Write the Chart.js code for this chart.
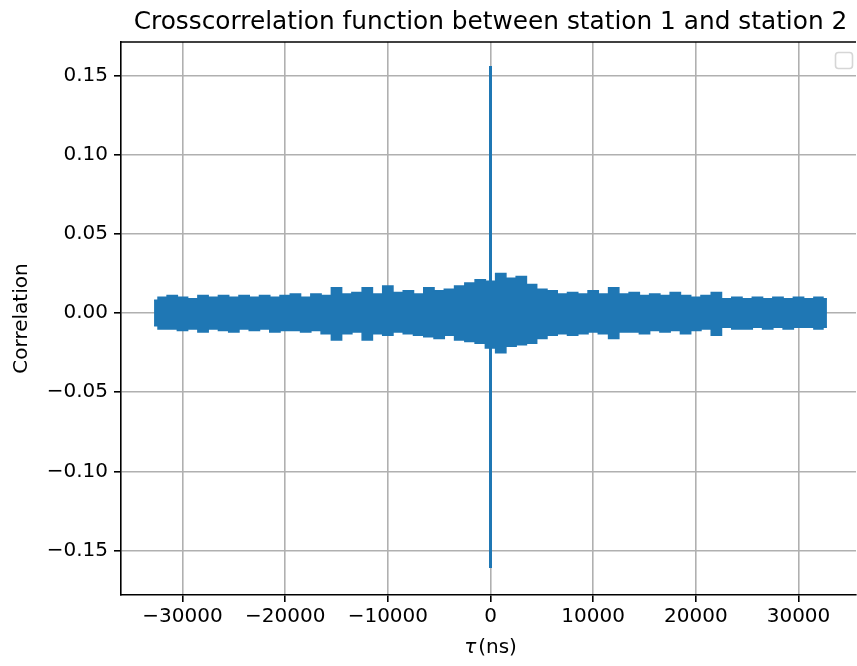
<!DOCTYPE html>
<html>
<head>
<meta charset="utf-8">
<script src="https://cdn.jsdelivr.net/npm/chart.js@4/dist/chart.umd.min.js"></script>
<style>
  html, body { margin: 0; padding: 0; background: #fff; }
  #wrap { width: 857px; height: 666px; }
</style>
</head>
<body>
<div id="wrap"><canvas id="grafico" width="857" height="666"></canvas></div>
<script>
// lag axis (ns) and band envelope
const tau = [-32768, -32000, -31000, -30000, -29000, -28000, -27000, -26000, -25000, -24000,
  -23000, -22000, -21000, -20000, -19000, -18000, -17000, -16000, -15000, -14000,
  -13000, -12000, -11000, -10000, -9000, -8000, -7000, -6000, -5000, -4000,
  -3000, -2000, -1000, 0, 1000, 2000, 3000, 4000, 5000, 6000,
  7000, 8000, 9000, 10000, 11000, 12000, 13000, 14000, 15000, 16000,
  17000, 18000, 19000, 20000, 21000, 22000, 23000, 24000, 25000, 26000,
  27000, 28000, 29000, 30000, 31000, 32000, 32767];

const envAlto = [0.008, 0.010, 0.011, 0.010, 0.009, 0.011, 0.010, 0.011, 0.010, 0.011,
  0.010, 0.011, 0.010, 0.011, 0.012, 0.010, 0.012, 0.011, 0.016, 0.012,
  0.013, 0.016, 0.012, 0.017, 0.013, 0.014, 0.012, 0.016, 0.014, 0.015,
  0.017, 0.019, 0.021, 0.020, 0.025, 0.022, 0.023, 0.018, 0.015, 0.014,
  0.012, 0.013, 0.012, 0.014, 0.012, 0.016, 0.012, 0.013, 0.011, 0.012,
  0.011, 0.013, 0.011, 0.010, 0.011, 0.013, 0.009, 0.010, 0.009, 0.010,
  0.009, 0.010, 0.009, 0.010, 0.009, 0.010, 0.009];

const envBaixo = [-0.008, -0.010, -0.010, -0.011, -0.010, -0.012, -0.010, -0.011, -0.012, -0.010,
  -0.011, -0.010, -0.012, -0.011, -0.011, -0.012, -0.011, -0.013, -0.017, -0.013,
  -0.012, -0.017, -0.013, -0.014, -0.012, -0.013, -0.014, -0.015, -0.016, -0.014,
  -0.017, -0.018, -0.019, -0.022, -0.025, -0.021, -0.020, -0.019, -0.016, -0.014,
  -0.013, -0.014, -0.013, -0.012, -0.013, -0.016, -0.012, -0.012, -0.013, -0.011,
  -0.012, -0.011, -0.013, -0.011, -0.010, -0.014, -0.009, -0.010, -0.010, -0.009,
  -0.010, -0.009, -0.010, -0.009, -0.009, -0.010, -0.009];

// the peak at zero lag
const picoTau = [0, 0];
const picoValor = [0.156, -0.161];

const xTicks = [-30000, -20000, -10000, 0, 10000, 20000, 30000];
const yTicks = [-0.15, -0.10, -0.05, 0.00, 0.05, 0.10, 0.15];

const titulo = 'Crosscorrelation function between station 1 and station 2';
const rotuloY = 'Correlation';

const azul = '#1f77b4';
const fonte = '"DejaVu Sans", sans-serif';
const menos = s => s.replace('-', '\u2212');

const pontos = (xs, ys) => xs.map((x, i) => ({ x: x, y: ys[i] }));

// title, axis labels, top spine and the empty legend box
const extras = {
  id: 'extras',
  afterDraw(chart) {
    const ctx = chart.ctx;
    const a = chart.chartArea;
    const cx = 490.5;
    ctx.save();
    ctx.fillStyle = '#000';
    ctx.font = '24.8px ' + fonte;
    ctx.textAlign = 'center';
    ctx.textBaseline = 'alphabetic';
    ctx.fillText(titulo, cx, 29);

    ctx.textBaseline = 'middle';
    ctx.font = 'italic 20px ' + fonte;
    const w1 = ctx.measureText('\u03c4').width;
    ctx.font = '20px ' + fonte;
    const w2 = ctx.measureText('(ns)').width;
    const x0 = cx - (w1 + 2 + w2) / 2;
    ctx.textAlign = 'left';
    ctx.font = 'italic 20px ' + fonte;
    ctx.fillText('\u03c4', x0, 648);
    ctx.font = '20px ' + fonte;
    ctx.fillText('(ns)', x0 + w1 + 2, 648);

    ctx.translate(22, (a.top + a.bottom) / 2);
    ctx.rotate(-Math.PI / 2);
    ctx.textAlign = 'center';
    ctx.fillText(rotuloY, 0, 0);
    ctx.restore();

    ctx.save();
    ctx.strokeStyle = '#000';
    ctx.lineWidth = 1.6;
    ctx.beginPath();
    ctx.moveTo(a.left, a.top);
    ctx.lineTo(a.right, a.top);
    ctx.stroke();

    ctx.strokeStyle = '#d6d6d6';
    ctx.fillStyle = 'rgba(255,255,255,0.8)';
    ctx.lineWidth = 1.6;
    ctx.beginPath();
    ctx.roundRect(835.5, 52.5, 17, 16, 3);
    ctx.fill();
    ctx.stroke();
    ctx.restore();
  }
};

const ctx = document.getElementById('grafico').getContext('2d');
new Chart(ctx, {
  type: 'line',
  data: {
    datasets: [
      {
        data: pontos(tau, envAlto),
        borderColor: azul,
        backgroundColor: azul,
        borderWidth: 1.5,
        pointRadius: 0,
        stepped: 'middle',
        fill: '+1'
      },
      {
        data: pontos(tau, envBaixo),
        borderColor: azul,
        backgroundColor: azul,
        borderWidth: 1.5,
        pointRadius: 0,
        stepped: 'middle',
        fill: false
      },
      {
        data: pontos(picoTau, picoValor),
        borderColor: azul,
        borderWidth: 3,
        pointRadius: 0,
        fill: false
      }
    ]
  },
  options: {
    responsive: false,
    animation: false,
    layout: { padding: { top: 42, right: 1, left: 0, bottom: 0 } },
    plugins: {
      legend: { display: false },
      tooltip: { enabled: false }
    },
    scales: {
      x: {
        type: 'linear',
        min: -35990,
        max: 35600,
        afterFit: s => { s.height = 71; },
        afterBuildTicks: s => { s.ticks = xTicks.map(v => ({ value: v })); },
        grid: { color: '#b0b0b0', lineWidth: 1.6, tickLength: 7, tickColor: '#000', tickWidth: 1.6 },
        border: { color: '#000', width: 1.6 },
        ticks: {
          color: '#000',
          font: { family: fonte, size: 20 },
          padding: 3,
          maxRotation: 0,
          autoSkip: false,
          callback: v => menos(String(v))
        }
      },
      y: {
        min: -0.178,
        max: 0.1711,
        afterFit: s => { s.width = 121; },
        afterBuildTicks: s => { s.ticks = yTicks.map(v => ({ value: v })); },
        grid: { color: '#b0b0b0', lineWidth: 1.6, tickLength: 7, tickColor: '#000', tickWidth: 1.6 },
        border: { color: '#000', width: 1.6 },
        ticks: {
          color: '#000',
          font: { family: fonte, size: 20 },
          padding: 6,
          autoSkip: false,
          callback: v => menos(v.toFixed(2))
        }
      }
    }
  },
  plugins: [extras]
});
</script>
</body>
</html>
